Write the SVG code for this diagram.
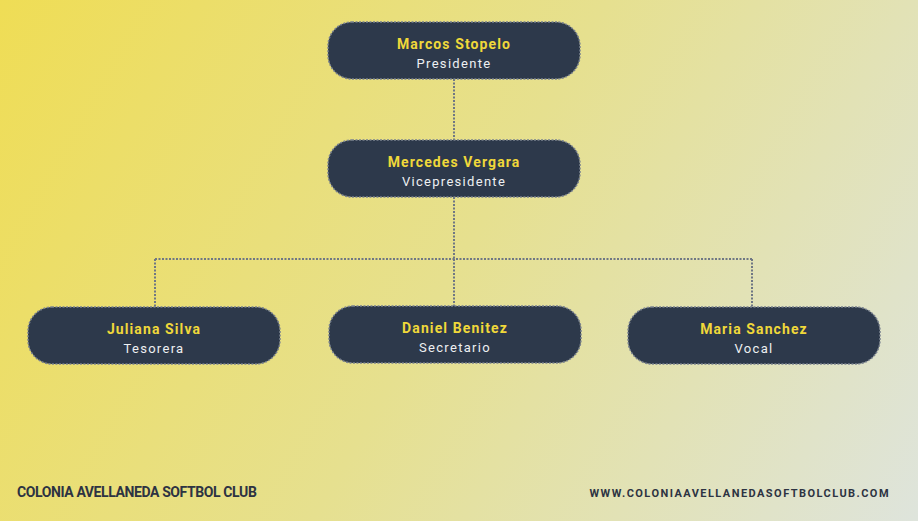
<svg xmlns="http://www.w3.org/2000/svg" width="918" height="521" viewBox="0 0 918 521">
<defs>
<linearGradient id="bg" x1="0" y1="0" x2="918" y2="521" gradientUnits="userSpaceOnUse">
<stop offset="0" stop-color="#efdd55"/>
<stop offset="0.5" stop-color="#e6e08f"/>
<stop offset="1" stop-color="#dee4dc"/>
</linearGradient>
<style>
.node rect{fill:#2d394b;stroke:#7a8290;stroke-width:1.5;stroke-dasharray:2 1.5}
.name{font-family:Roboto,"Liberation Sans",sans-serif;font-weight:bold;font-size:14px;fill:#f0d83a;text-anchor:middle;letter-spacing:1.1px}
.role{font-family:Roboto,"Liberation Sans",sans-serif;font-size:13px;fill:#eef0f2;text-anchor:middle;letter-spacing:1.3px}
.conn path{fill:none;stroke:#6f7784;stroke-width:2;stroke-dasharray:2 1.5}
.foot{font-family:Roboto,"Liberation Sans",sans-serif;font-weight:bold;fill:#2d3342}
</style>
</defs>
<rect width="918" height="521" fill="url(#bg)"/>
<g id="connectors" class="conn">
<path d="M454 79V140"/>
<path d="M454 197V259"/>
<path d="M155 259H752"/>
<path d="M155 259V307"/>
<path d="M454 259V306"/>
<path d="M752 259V307"/>
</g>
<g id="node-marcos" class="node">
<rect x="328" y="22" width="252" height="57" rx="24"/>
<text class="name" x="454" y="49">Marcos Stopelo</text>
<text class="role" x="454" y="68">Presidente</text>
</g>
<g id="node-mercedes" class="node">
<rect x="328" y="140" width="252" height="57" rx="24"/>
<text class="name" x="454" y="167">Mercedes Vergara</text>
<text class="role" x="454" y="186">Vicepresidente</text>
</g>
<g id="node-juliana" class="node">
<rect x="28" y="307" width="252" height="57" rx="24"/>
<text class="name" x="154" y="334">Juliana Silva</text>
<text class="role" x="154" y="353">Tesorera</text>
</g>
<g id="node-daniel" class="node">
<rect x="329" y="306" width="252" height="57" rx="24"/>
<text class="name" x="455" y="333">Daniel Benitez</text>
<text class="role" x="455" y="352">Secretario</text>
</g>
<g id="node-maria" class="node">
<rect x="628" y="307" width="252" height="57" rx="24"/>
<text class="name" x="754" y="334">Maria Sanchez</text>
<text class="role" x="754" y="353">Vocal</text>
</g>
<text class="foot" x="17" y="497" font-size="14" letter-spacing="-0.4">COLONIA AVELLANEDA SOFTBOL CLUB</text>
<text class="foot" x="890" y="497" font-size="11" letter-spacing="1.45" text-anchor="end">WWW.COLONIAAVELLANEDASOFTBOLCLUB.COM</text>
</svg>
